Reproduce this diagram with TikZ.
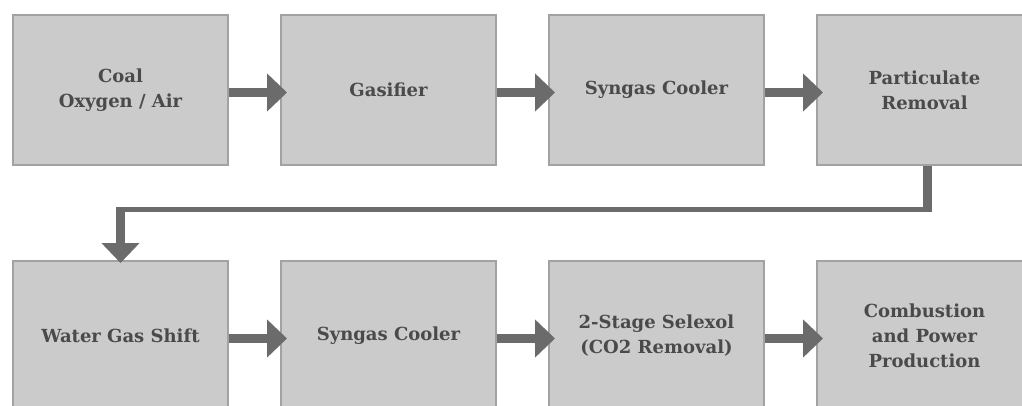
\documentclass[tikz,border=0pt]{standalone}
\usepackage{fontspec}
\setmainfont{DejaVu Serif}
\usetikzlibrary{arrows.meta}
\definecolor{boxfill}{HTML}{CBCBCB}
\definecolor{boxline}{HTML}{A2A2A2}
\definecolor{arrcol}{HTML}{6B6B6B}
\definecolor{txtcol}{HTML}{4A4A4A}
\begin{document}
\begin{tikzpicture}[x=1pt,y=-1pt,
  procbox/.style={draw=boxline,fill=boxfill,line width=2pt,minimum width=215pt,minimum height=150pt,
    inner sep=0pt,align=center,text=txtcol,font=\bfseries\fontsize{18}{25}\selectfont},
  flow/.style={draw=arrcol,line width=9pt,-{Triangle[length=20pt,width=37pt]}},
  plainflow/.style={draw=arrcol,line width=9pt},
  thinflow/.style={draw=arrcol,line width=5pt}]
\useasboundingbox (0,0) rectangle (1022,406);
\node[procbox] (b1) at (120.5,90) {Coal\\Oxygen / Air};
\node[procbox] (b2) at (388.5,90) {Gasifier};
\node[procbox] (b3) at (656.5,90) {Syngas Cooler};
\node[procbox] (b4) at (924.5,90) {Particulate\\Removal};
\node[procbox] (b5) at (120.5,336) {Water Gas Shift};
\node[procbox] (b6) at (388.5,336) {Syngas Cooler};
\node[procbox] (b7) at (656.5,336) {2-Stage Selexol\\(CO2 Removal)};
\node[procbox] (b8) at (924.5,336) {Combustion\\and Power\\Production};
\draw[flow] ([yshift=-2.5pt]b1.east) -- ([xshift=7pt,yshift=-2.5pt]b2.west);
\draw[flow] ([yshift=-2.5pt]b2.east) -- ([xshift=7pt,yshift=-2.5pt]b3.west);
\draw[flow] ([yshift=-2.5pt]b3.east) -- ([xshift=7pt,yshift=-2.5pt]b4.west);
\draw[flow] ([yshift=-2.5pt]b5.east) -- ([xshift=7pt,yshift=-2.5pt]b6.west);
\draw[flow] ([yshift=-2.5pt]b6.east) -- ([xshift=7pt,yshift=-2.5pt]b7.west);
\draw[flow] ([yshift=-2.5pt]b7.east) -- ([xshift=7pt,yshift=-2.5pt]b8.west);
\coordinate (c1) at ([xshift=3pt]b4.south |- 0,212);
\coordinate (c2) at (b5.north |- 0,209.5);
\draw[plainflow] ([xshift=3pt]b4.south) -- (c1);
\draw[thinflow] ([xshift=4.5pt]c1 |- c2) -- ([xshift=-4.5pt]c2);
\draw[flow] ([yshift=2.5pt]c2) -- ([yshift=-3pt]b5.north);
\end{tikzpicture}
\end{document}
